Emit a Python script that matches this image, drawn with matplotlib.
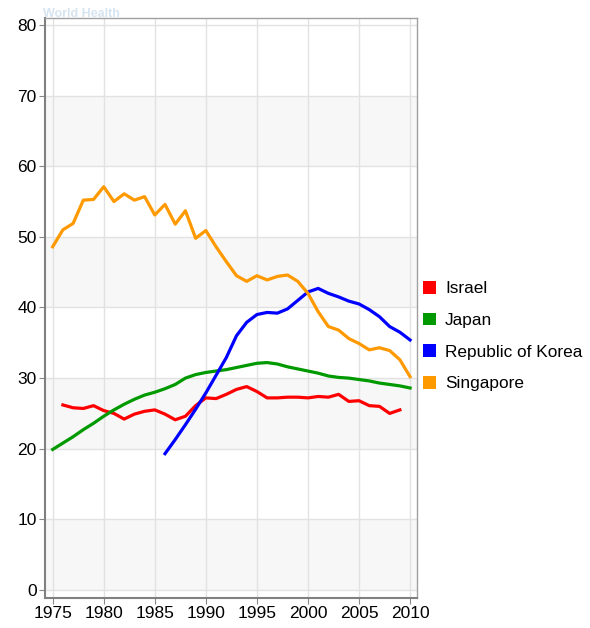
import numpy as np
import matplotlib.pyplot as plt
from matplotlib.patches import Patch

# ---------------------- Daten ----------------------
years = list(range(1975, 2011))

israel_years = list(range(1976, 2010))
israel = [26.2, 25.8, 25.7, 26.1, 25.4, 25.0, 24.2, 24.9, 25.3, 25.5,
          24.9, 24.1, 24.6, 26.1, 27.2, 27.1, 27.7, 28.4, 28.8, 28.1,
          27.2, 27.2, 27.3, 27.3, 27.2, 27.4, 27.3, 27.7, 26.7, 26.8,
          26.1, 26.0, 25.0, 25.5]

japan = [19.9, 20.8, 21.7, 22.7, 23.6, 24.6, 25.5, 26.3, 27.0, 27.6,
         28.0, 28.5, 29.1, 30.0, 30.5, 30.8, 31.0, 31.2, 31.5, 31.8,
         32.1, 32.2, 32.0, 31.6, 31.3, 31.0, 30.7, 30.3, 30.1, 30.0,
         29.8, 29.6, 29.3, 29.1, 28.9, 28.6]

korea_years = list(range(1986, 2011))
korea = [19.3, 21.3, 23.4, 25.6, 27.9, 30.4, 32.9, 36.0, 37.9, 39.0,
         39.3, 39.2, 39.8, 41.0, 42.2, 42.7, 42.0, 41.5, 40.9, 40.5,
         39.7, 38.7, 37.3, 36.5, 35.4]

singapore = [48.6, 51.0, 51.9, 55.2, 55.3, 57.1, 55.0, 56.1, 55.2, 55.7,
             53.1, 54.6, 51.8, 53.7, 49.8, 50.9, 48.6, 46.5, 44.5, 43.7,
             44.5, 43.9, 44.4, 44.6, 43.7, 42.0, 39.4, 37.3, 36.8, 35.6,
             34.9, 34.0, 34.3, 33.9, 32.6, 30.2]

labels = ["Israel", "Japan", "Republic of Korea", "Singapore"]
colors = ["#ff0000", "#009a00", "#0000ff", "#ff9900"]

xticks = list(range(1975, 2011, 5))
yticks = list(range(0, 81, 10))

# ---------------------- Plot ----------------------
plt.rcParams["font.family"] = ["Liberation Sans", "DejaVu Sans"]

fig = plt.figure(figsize=(5.9, 6.28), dpi=100)
ax = fig.add_axes([0.0763, 0.0483, 0.630, 0.923])

# abwechselnde Hintergrundbänder
for lo in range(0, 80, 20):
    ax.axhspan(lo, lo + 10, color="#f7f7f7", zorder=0, lw=0)

ax.plot(israel_years, israel, color=colors[0], lw=2.3, zorder=3)
ax.plot(years, japan, color=colors[1], lw=2.3, zorder=3)
ax.plot(korea_years, korea, color=colors[2], lw=2.3, zorder=3)
ax.plot(years, singapore, color=colors[3], lw=2.3, zorder=3)

ax.set_xlim(1974.25, 2010.65)
ax.set_ylim(-1.09, 80.99)
ax.set_xticks(xticks)
ax.set_yticks(yticks)
ax.tick_params(labelsize=12.5, length=4, color="#888888", pad=2)
ax.grid(True, color="#e2e2e2", lw=1, zorder=1)
ax.set_axisbelow(True)

for s in ["top", "right"]:
    ax.spines[s].set_color("#a0a0a0")
    ax.spines[s].set_linewidth(1.0)
for s in ["left", "bottom"]:
    ax.spines[s].set_color("#808080")
    ax.spines[s].set_linewidth(1.5)

handles = [Patch(facecolor=c, edgecolor="none") for c in colors]
fig.legend(handles, labels, loc="upper left", bbox_to_anchor=(0.69, 0.577),
           frameon=False, fontsize=12.4, handlelength=0.75, handleheight=0.75,
           handletextpad=0.55, labelspacing=0.95)

# Wasserzeichen
fig.text(0.073, 0.978, "World Health", color="#d6e4f0", fontsize=9,
         fontweight="bold", va="center")

fig.savefig("out.png", dpi=100)
